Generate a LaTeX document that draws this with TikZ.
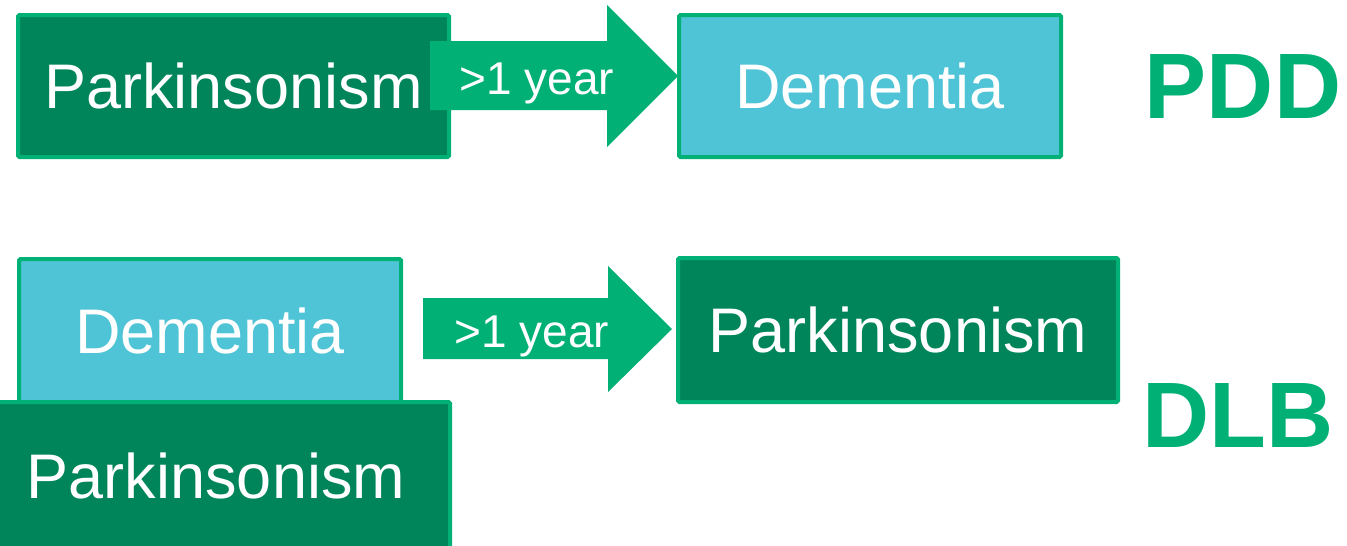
\documentclass[tikz,border=0pt]{standalone}
\usepackage{fontspec}
\setmainfont{Liberation Sans}
\definecolor{dkgreen}{HTML}{00855A}
\definecolor{brgreen}{HTML}{00B074}
\definecolor{cyanbox}{HTML}{4FC4D6}
\tikzset{
  box/.style={draw=brgreen, line width=4pt, rounded corners=1.5pt, text=white,
    font=\fontsize{63}{70}\selectfont, inner sep=0pt},
  boxtxt/.style={text=white, font=\fontsize{63}{70}\selectfont, inner sep=0pt},
  blockarrow/.style={fill=brgreen, draw=none},
  arrtxt/.style={text=white, font=\fontsize{46}{50}\selectfont, inner sep=0pt, anchor=base},
  tag/.style={text=brgreen, font=\fontsize{93}{100}\selectfont\bfseries, inner sep=0pt, anchor=base}
}
\begin{document}
\begin{tikzpicture}[x=1pt,y=-1pt]
\useasboundingbox (0,0) rectangle (1347,546);
% row 1
\node[box, fill=dkgreen, minimum width=431pt, minimum height=142pt] (park1) at (233.5,86) {Parkinsonism};
\node[box, fill=cyanbox, minimum width=382pt, minimum height=142pt] (dem1) at (870,86) {Dementia};
\coordinate (a1s) at (430,76);
\fill[blockarrow] (430,41) -- (607,41) -- (607,5) -- (678,76) -- (607,147) -- (607,110) -- (430,110) -- cycle;
\node[arrtxt] (y1) at (537,94) {>1 year};
\node[tag] (pdd) at (1243,118) {PDD};
% row 2
\node[box, fill=cyanbox, minimum width=382pt, minimum height=144pt] (dem2) at (210,331) {Dementia};
\node[box, fill=dkgreen, minimum width=458pt, minimum height=158pt] (park2) at (221,481) {};
\node[boxtxt] (park2t) at (216,476) {Parkinsonism};
\fill[blockarrow] (423,298) -- (608,298) -- (608,266) -- (672,329) -- (608,392) -- (608,359) -- (423,359) -- cycle;
\node[arrtxt] (y2) at (532,347) {>1 year};
\node[box, fill=dkgreen, minimum width=440pt, minimum height=144pt] (park3) at (898,330) {Parkinsonism};
\node[tag] (dlb) at (1238,447) {DLB};
\end{tikzpicture}
\end{document}
